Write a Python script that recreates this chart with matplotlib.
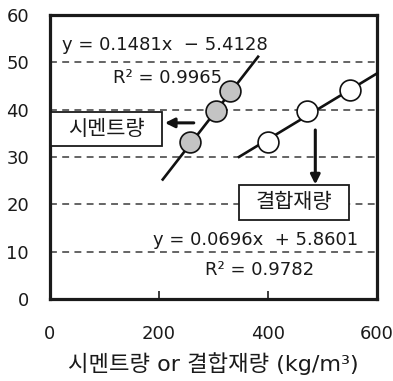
import numpy as np
import matplotlib
matplotlib.use("Agg")
import matplotlib.pyplot as plt
from matplotlib.patches import Rectangle

plt.rcParams['font.family'] = ['DejaVu Sans', 'Noto Sans CJK KR']

# Cement content series (grey markers)
cement_x = [257, 305, 331]
cement_y = [33.2, 39.6, 44.0]
# Binder content series (white markers)
binder_x = [400, 471, 550]
binder_y = [33.2, 39.6, 44.2]

# Linear fits: slope, intercept, R²
cement_fit = (0.1481, -5.4128, 0.9965)
binder_fit = (0.0696, 5.8601, 0.9782)
cement_line_x = [207, 382]
binder_line_x = [347, 600]

x_ticks = [0, 200, 400, 600]
y_ticks = [0, 10, 20, 30, 40, 50, 60]

ink = '#1a1a1a'

fig = plt.figure(figsize=(3.93, 3.81), dpi=100)
ax = fig.add_axes([0.127, 0.215, 0.832, 0.746])

ax.set_xlim(0, 600)
ax.set_ylim(0, 60)

for g in y_ticks[1:-1]:
    ax.axhline(g, color='#3a3a3a', lw=1.1, ls=(0, (4.5, 3.5)), zorder=1)

for s in ax.spines.values():
    s.set_linewidth(2.3)
    s.set_color(ink)

ax.set_xticks(x_ticks)
ax.set_yticks(y_ticks)
ax.tick_params(axis='x', direction='in', length=6, width=1.2, pad=19,
               labelsize=13, colors=ink)
ax.tick_params(axis='y', length=0, pad=15, labelsize=13, colors=ink)

# fitted lines
m, b, _ = cement_fit
xs = np.array(cement_line_x)
ax.plot(xs, m * xs + b, color='#111111', lw=1.9, zorder=3)
m, b, _ = binder_fit
xs = np.array(binder_line_x)
ax.plot(xs, m * xs + b, color='#111111', lw=1.9, zorder=3, clip_on=False)

ax.plot(cement_x, cement_y, 'o', ms=15, mfc='#c4c4c4', mec='#111111',
        mew=1.2, zorder=4)
ax.plot(binder_x, binder_y, 'o', ms=15, mfc='white', mec='#111111',
        mew=1.2, zorder=4)

fs = 13
ax.text(22, 53.7, f"y = {cement_fit[0]}x  − {abs(cement_fit[1])}",
        fontsize=fs, va='center', ha='left', color=ink, zorder=5)
ax.text(215, 46.7, f"R² = {cement_fit[2]}", fontsize=fs, va='center',
        ha='center', color=ink, zorder=5)
ax.text(189, 12.4, f"y = {binder_fit[0]}x  + {binder_fit[1]:.4f}",
        fontsize=fs, va='center', ha='left', color=ink, zorder=5)
ax.text(385, 6.1, f"R² = {binder_fit[2]}", fontsize=fs, va='center',
        ha='center', color=ink, zorder=5)

# labelled boxes
for (x0, x1, y0, y1, label) in [(2, 205, 32.3, 39.5, "시멘트량"),
                                (347, 549, 16.7, 24.1, "결합재량")]:
    ax.add_patch(Rectangle((x0, y0), x1 - x0, y1 - y0, fc='white',
                           ec=ink, lw=1.3, zorder=5, clip_on=False))
    ax.text((x0 + x1) / 2, (y0 + y1) / 2, label, fontsize=15,
            family=['Noto Sans CJK KR'], ha='center', va='center',
            color=ink, zorder=6)

ax.annotate("", xy=(211, 37.2), xytext=(264, 37.2),
            arrowprops=dict(arrowstyle='-|>', color='#111111', lw=2.2,
                            mutation_scale=14, shrinkA=0, shrinkB=0),
            zorder=6)
ax.annotate("", xy=(487, 24.2), xytext=(487, 35.7),
            arrowprops=dict(arrowstyle='-|>', color='#111111', lw=2.2,
                            mutation_scale=14, shrinkA=0, shrinkB=0),
            zorder=6)

ax.set_xlabel("시멘트량 or 결합재량 (kg/m³)", fontsize=16, labelpad=6,
              color=ink)

fig.savefig("out.png", dpi=100)
